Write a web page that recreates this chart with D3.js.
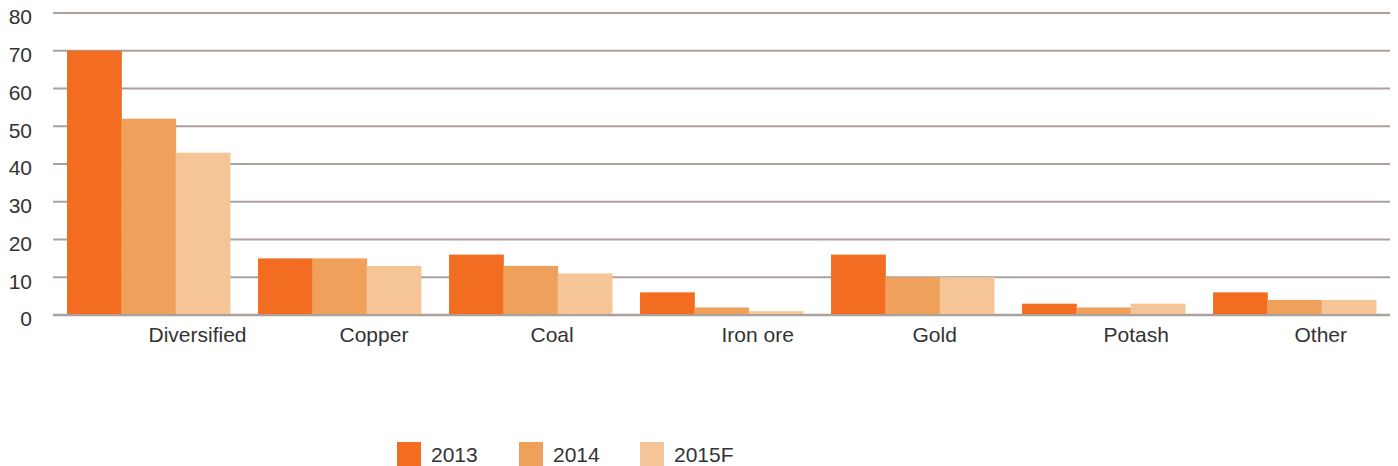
<!DOCTYPE html>
<html>
<head>
<meta charset="utf-8">
<script src="https://cdn.jsdelivr.net/npm/d3@7"></script>
<style>
  body { margin: 0; background: #fff; }
  text { font-family: "Liberation Sans", Arial, sans-serif; fill: #333; }
</style>
</head>
<body>
<div id="chart"></div>
<script>
// Chart data
const categories = ["Diversified", "Copper", "Coal", "Iron ore", "Gold", "Potash", "Other"];
const seriesNames = ["2013", "2014", "2015F"];
const values2013 = [70, 15, 16, 6, 16, 3, 6];
const values2014 = [52, 15, 13, 2, 10, 2, 4];
const values2015 = [43, 13, 11, 1, 10, 3, 4];
const yTicks = [0, 10, 20, 30, 40, 50, 60, 70, 80];

const colors = ["#f26d22", "#efa05a", "#f5c597"];
const seriesValues = [values2013, values2014, values2015];

// Chart params
const svgWidth = 1398;
const svgHeight = 466;
const margin = { top: 13, right: 8, bottom: 151, left: 53 };
const width = svgWidth - margin.left - margin.right;
const height = svgHeight - margin.top - margin.bottom;

const svg = d3.select("#chart")
  .append("svg")
  .attr("width", svgWidth)
  .attr("height", svgHeight);

const chartGroup = svg.append("g")
  .attr("transform", `translate(${margin.left}, ${margin.top})`);

// scales
const x0 = d3.scaleBand()
  .domain(categories)
  .range([0, width])
  .paddingInner(0.147)
  .paddingOuter(0.0735);

const x1 = d3.scaleBand()
  .domain(seriesNames)
  .range([0, x0.bandwidth()]);

const y = d3.scaleLinear()
  .domain([0, 80])
  .range([height, 0]);

// gridlines
chartGroup.selectAll(".grid")
  .data(yTicks)
  .enter()
  .append("line")
  .attr("x1", 0)
  .attr("x2", width)
  .attr("y1", d => y(d))
  .attr("y2", d => y(d))
  .attr("stroke", "#aba19c")
  .attr("stroke-width", d => d === 0 ? 2.5 : 2);

// y tick labels
chartGroup.selectAll(".ytick")
  .data(yTicks)
  .enter()
  .append("text")
  .attr("x", -21)
  .attr("y", d => y(d) + 4)
  .attr("dy", "0.35em")
  .attr("text-anchor", "end")
  .style("font-size", "21px")
  .text(d => d);

// bars
const groups = chartGroup.selectAll(".cat")
  .data(categories)
  .enter()
  .append("g")
  .attr("transform", d => `translate(${x0(d)}, 0)`);

groups.selectAll("rect")
  .data((d, i) => seriesNames.map((s, j) => ({ key: s, value: seriesValues[j][i], color: colors[j] })))
  .enter()
  .append("rect")
  .attr("x", d => x1(d.key))
  .attr("y", d => y(d.value))
  .attr("width", x1.bandwidth() + 0.5)
  .attr("height", d => y(0) - y(d.value) - 1)
  .attr("fill", d => d.color);

// category labels, starting at the group centre
chartGroup.selectAll(".xlabel")
  .data(categories)
  .enter()
  .append("text")
  .attr("x", d => x0(d) + x0.bandwidth() / 2)
  .attr("y", height + 27)
  .style("font-size", "21px")
  .text(d => d);

// legend
const legendX = [397, 519, 640];
const legend = svg.selectAll(".legend")
  .data(seriesNames)
  .enter()
  .append("g")
  .attr("transform", (d, i) => `translate(${legendX[i]}, 442)`);

legend.append("rect")
  .attr("width", 24)
  .attr("height", 24)
  .attr("fill", (d, i) => colors[i]);

legend.append("text")
  .attr("x", 34)
  .attr("y", 19.5)
  .style("font-size", "21px")
  .text(d => d);
</script>
</body>
</html>
